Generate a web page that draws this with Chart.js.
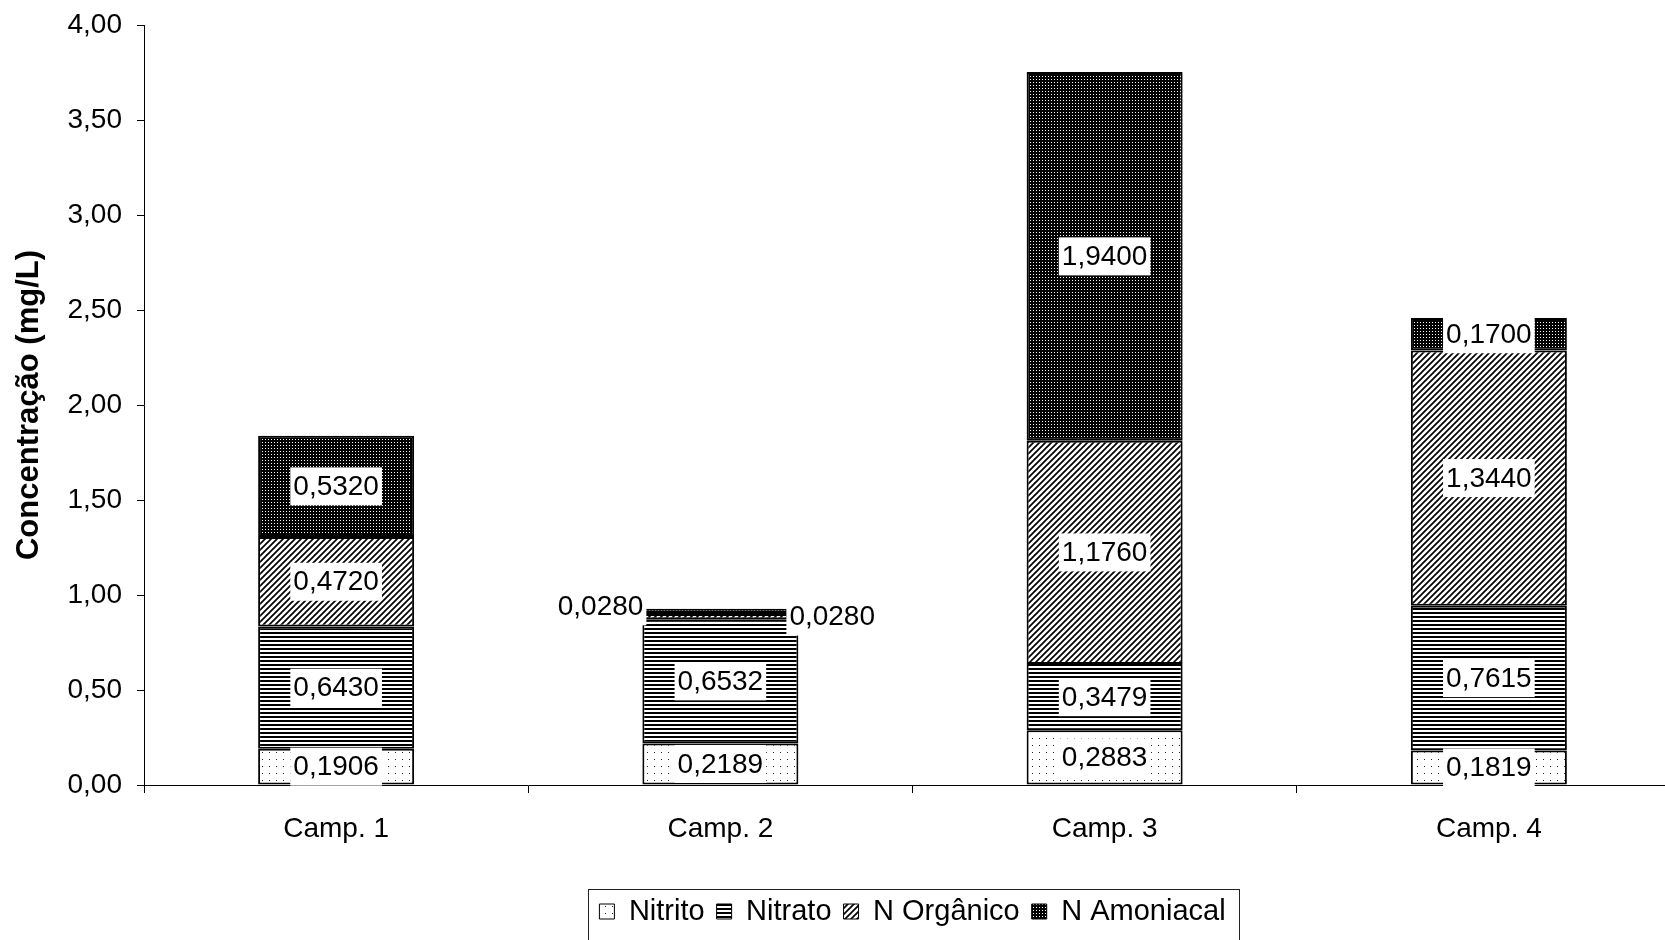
<!DOCTYPE html>
<html lang="pt">
<head>
<meta charset="utf-8">
<title>Formas de nitrogênio por campanha</title>
<script src="https://cdn.jsdelivr.net/npm/chart.js@4.4.1/dist/chart.umd.min.js"></script>
<style>
  html, body { margin: 0; padding: 0; background: #fff; overflow: hidden; }
  #wrap { width: 1681px; height: 940px; }
</style>
</head>
<body>
<div id="wrap"><canvas id="grafico" width="1681" height="940"></canvas></div>
<script>
// campanhas e concentrações (mg/L)
const campanhas = ["Camp. 1", "Camp. 2", "Camp. 3", "Camp. 4"];
const nitrito = [0.1906, 0.2189, 0.2883, 0.1819];
const nitrato = [0.6430, 0.6532, 0.3479, 0.7615];
const nOrganico = [0.4720, 0.0280, 1.1760, 1.3440];
const nAmoniacal = [0.5320, 0.0280, 1.9400, 0.1700];

const eixoMin = 0;
const eixoMax = 4;
const eixoPasso = 0.5;

const FONTE = "'Liberation Sans', Arial, sans-serif";
const canvas = document.getElementById("grafico");
const ctx = canvas.getContext("2d");

// hachuras no estilo do Excel
function hachura(w, h, desenha) {
  const tile = document.createElement("canvas");
  tile.width = w;
  tile.height = h;
  desenha(tile.getContext("2d"), w, h);
  return ctx.createPattern(tile, "repeat");
}

const padNitrito = hachura(7, 7, (g, w, h) => {
  g.fillStyle = "#fff"; g.fillRect(0, 0, w, h);
  g.fillStyle = "#222"; g.fillRect(3, 3, 1, 1);
});
const padNitrato = hachura(4, 4, (g, w, h) => {
  g.fillStyle = "#fff"; g.fillRect(0, 0, w, h);
  g.fillStyle = "#000"; g.fillRect(0, 0, w, 2);
});
const padOrganico = hachura(6, 6, (g, w, h) => {
  g.fillStyle = "#fff"; g.fillRect(0, 0, w, h);
  g.strokeStyle = "#000"; g.lineWidth = 1.7;
  g.beginPath();
  g.moveTo(-1, h + 1); g.lineTo(w + 1, -1);
  g.moveTo(-1, 1); g.lineTo(1, -1);
  g.moveTo(w - 1, h + 1); g.lineTo(w + 1, h - 1);
  g.stroke();
});
const padAmoniacal = hachura(3, 3, (g, w, h) => {
  g.fillStyle = "#000"; g.fillRect(0, 0, w, h);
  g.fillStyle = "#fff"; g.fillRect(1, 1, 1, 1);
});

const virgula = (v, casas) => v.toFixed(casas).replace(".", ",");

// rótulos de valor com fundo branco
const rotulos = {
  id: "rotulos",
  afterDatasetsDraw(chart) {
    const c = chart.ctx;
    c.save();
    c.font = "28px " + FONTE;
    c.textBaseline = "middle";
    c.textAlign = "center";
    const ultimo = chart.data.datasets.length - 1;
    chart.data.datasets.forEach((ds, i) => {
      chart.getDatasetMeta(i).data.forEach((el, j) => {
        const v = ds.data[j];
        const p = el.getProps(["x", "y", "base", "width"], true);
        const txt = virgula(v, 4);
        const tw = c.measureText(txt).width;
        const bw = tw + 6, bh = 38;
        let cx = p.x;
        let cy = (p.y + p.base) / 2;
        if (v < 0.05) {
          // segmentos finos: rótulo ao lado da barra
          if (i === ultimo) {
            cx = p.x - p.width / 2 + 4 - bw / 2;
            cy -= 5;
          } else {
            cx = p.x + p.width / 2 - 12 + bw / 2;
          }
        }
        c.fillStyle = "#fff";
        c.fillRect(cx - bw / 2, cy - bh / 2, bw, bh);
        c.fillStyle = "#000";
        c.fillText(txt, cx, cy + 1);
      });
    });
    c.restore();
  }
};

// moldura da legenda
const molduraLegenda = {
  id: "molduraLegenda",
  afterDraw(chart) {
    const caixas = chart.legend && chart.legend.legendHitBoxes;
    if (!caixas || !caixas.length) return;
    const ult = caixas[caixas.length - 1];
    const x0 = caixas[0].left - 11;
    const x1 = ult.left + ult.width + 14;
    const y0 = caixas[0].top - 8;
    const c = chart.ctx;
    c.save();
    c.strokeStyle = "#222";
    c.lineWidth = 1;
    c.strokeRect(Math.round(x0) + 0.5, Math.round(y0) + 0.5, Math.round(x1 - x0), 80);
    c.restore();
  }
};

const serie = (label, data, fundo) => ({
  label, data,
  backgroundColor: fundo,
  borderColor: "#000",
  borderWidth: 2,
  borderSkipped: false
});

new Chart(canvas, {
  type: "bar",
  data: {
    labels: campanhas,
    datasets: [
      serie("Nitrito", nitrito, padNitrito),
      serie("Nitrato", nitrato, padNitrato),
      serie("N Orgânico", nOrganico, padOrganico),
      serie("N Amoniacal", nAmoniacal, padAmoniacal)
    ]
  },
  options: {
    responsive: false,
    animation: false,
    layout: { padding: { top: 0, left: 0, right: 0, bottom: 4 } },
    datasets: { bar: { categoryPercentage: 1, barPercentage: 0.406 } },
    scales: {
      x: {
        stacked: true,
        afterFit(s) { s.height = 100; },
        border: { color: "#000", width: 1 },
        grid: { drawOnChartArea: false, drawTicks: true, tickLength: 8, color: "#000" },
        ticks: { color: "#000", padding: 19, font: { family: FONTE, size: 28 } }
      },
      y: {
        stacked: true,
        min: eixoMin,
        max: eixoMax,
        afterFit(s) { s.width = 144; s.paddingTop = 25; },
        border: { color: "#000", width: 1 },
        grid: { drawOnChartArea: false, drawTicks: true, tickLength: 7, color: "#000" },
        ticks: {
          stepSize: eixoPasso,
          color: "#000",
          padding: 15,
          font: { family: FONTE, size: 28 },
          callback: v => virgula(v, 2)
        },
        title: {
          display: true,
          text: "Concentração (mg/L)",
          color: "#000",
          padding: { top: 11, bottom: 0 },
          font: { family: FONTE, size: 31, weight: "bold" }
        }
      }
    },
    plugins: {
      tooltip: { enabled: false },
      legend: {
        position: "bottom",
        fullSize: false,
        labels: {
          color: "#000",
          boxWidth: 15,
          boxHeight: 15,
          padding: 12,
          font: { family: FONTE, size: 29 },
          generateLabels(chart) {
            const base = Chart.defaults.plugins.legend.labels.generateLabels(chart);
            return base.map(it => Object.assign(it, { lineWidth: 1, strokeStyle: "#000" }));
          }
        }
      }
    }
  },
  plugins: [rotulos, molduraLegenda]
});
</script>
</body>
</html>
